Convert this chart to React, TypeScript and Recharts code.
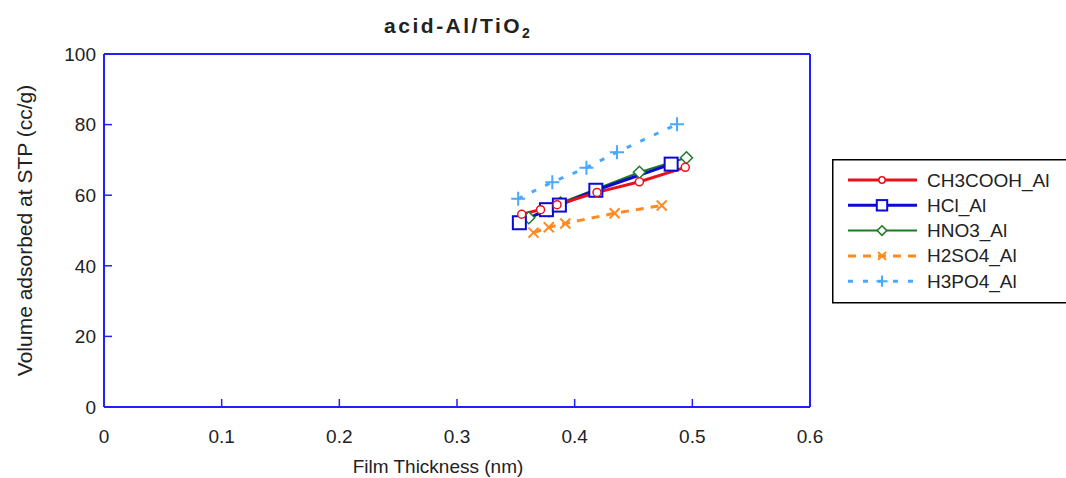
import React from 'react';
import { LineChart, Line, XAxis, YAxis, Legend } from 'recharts';

const xTicks = [0, 0.1, 0.2, 0.3, 0.4, 0.5, 0.6];
const yTicks = [0, 20, 40, 60, 80, 100];

// film thickness (nm) / volume adsorbed (cc/g)
const ch3coohX = [0.355, 0.371, 0.385, 0.419, 0.455, 0.494];
const ch3coohY = [54.6, 55.9, 57.3, 60.8, 63.8, 67.9];
const hclX = [0.353, 0.376, 0.387, 0.418, 0.482];
const hclY = [52.2, 55.9, 57.2, 61.4, 68.8];
const hno3X = [0.361, 0.378, 0.388, 0.455, 0.495];
const hno3Y = [53.6, 55.6, 57.8, 66.5, 70.6];
const h2so4X = [0.365, 0.378, 0.392, 0.434, 0.474];
const h2so4Y = [49.4, 50.9, 52.0, 54.9, 57.1];
const h3po4X = [0.352, 0.381, 0.41, 0.436, 0.487];
const h3po4Y = [59.0, 63.7, 67.8, 72.2, 80.1];

const toPoints = (xs: number[], ys: number[]) => xs.map((x, i) => ({ x, y: ys[i] }));

type Shape = 'circle' | 'square' | 'diamond' | 'cross' | 'plus';

const SERIES = [
  { name: 'CH3COOH_Al', data: toPoints(ch3coohX, ch3coohY), color: '#e8121b', width: 3, dash: undefined, shape: 'circle' as Shape },
  { name: 'HCl_Al', data: toPoints(hclX, hclY), color: '#0a0ad2', width: 3, dash: undefined, shape: 'square' as Shape },
  { name: 'HNO3_Al', data: toPoints(hno3X, hno3Y), color: '#1f7a24', width: 2, dash: undefined, shape: 'diamond' as Shape },
  { name: 'H2SO4_Al', data: toPoints(h2so4X, h2so4Y), color: '#ff8a1f', width: 3, dash: '8 7', shape: 'cross' as Shape },
  { name: 'H3PO4_Al', data: toPoints(h3po4X, h3po4Y), color: '#4aa8ff', width: 3, dash: '5 10', shape: 'plus' as Shape },
];

const drawOrder = ['HNO3_Al', 'HCl_Al', 'CH3COOH_Al', 'H2SO4_Al', 'H3PO4_Al'];

const FONT = '"Liberation Sans", Arial, sans-serif';

const Marker = ({ shape, cx, cy, color, s = 1 }: { shape: Shape; cx: number; cy: number; color: string; s?: number }) => {
  if (cx == null || cy == null) return null;
  switch (shape) {
    case 'circle':
      return <circle cx={cx} cy={cy} r={4 * s} fill="#fff" stroke={color} strokeWidth={1.5} />;
    case 'square':
      return <rect x={cx - 6.5 * s} y={cy - 6.5 * s} width={13 * s} height={13 * s} fill="#fff" stroke={color} strokeWidth={2} />;
    case 'diamond':
      return (
        <path
          d={`M${cx},${cy - 6 * s} L${cx + 6 * s},${cy} L${cx},${cy + 6 * s} L${cx - 6 * s},${cy} Z`}
          fill="#fff"
          stroke={color}
          strokeWidth={1.5}
        />
      );
    case 'cross':
      return (
        <path
          d={`M${cx - 5 * s},${cy - 5 * s} L${cx + 5 * s},${cy + 5 * s} M${cx - 5 * s},${cy + 5 * s} L${cx + 5 * s},${cy - 5 * s}`}
          stroke={color}
          strokeWidth={2}
        />
      );
    default:
      return <path d={`M${cx - 7 * s},${cy} L${cx + 7 * s},${cy} M${cx},${cy - 7 * s} L${cx},${cy + 7 * s}`} stroke={color} strokeWidth={2} />;
  }
};

const YTitle = (props: any) => {
  const vb = props.viewBox || {};
  const x = vb.x + 24;
  const y = vb.y + vb.height / 2;
  return (
    <text x={x} y={y} transform={`rotate(-90 ${x} ${y})`} textAnchor="middle" dominantBaseline="central" fill="#222" fontSize={21} fontFamily={FONT}>
      Volume adsorbed at STP (cc/g)
    </text>
  );
};

const XTitle = (props: any) => {
  const vb = props.viewBox || {};
  const x = vb.x + vb.width / 2 - 19;
  const y = vb.y + 59;
  return (
    <text x={x} y={y} textAnchor="middle" dominantBaseline="central" fill="#222" fontSize={19} fontFamily={FONT}>
      Film Thickness (nm)
    </text>
  );
};

const LegendBox = () => (
  <svg width={240} height={145} style={{ display: 'block' }}>
    <rect x={0.75} y={0.75} width={250} height={143} fill="#fff" stroke="#000" strokeWidth={1.5} />
    {SERIES.map((s, i) => {
      const cy = 21 + i * 25.3;
      return (
        <g key={s.name}>
          <line x1={16} x2={85} y1={cy} y2={cy} stroke={s.color} strokeWidth={s.width} strokeDasharray={s.dash} />
          <Marker shape={s.shape} cx={50} cy={cy} color={s.color} s={0.8} />
          <text x={95} y={cy} dominantBaseline="central" fontSize={19} fontFamily={FONT} fill="#222">
            {s.name}
          </text>
        </g>
      );
    })}
  </svg>
);

const axisColor = '#1f1fff';

export default function App() {
  return (
    <div style={{ position: 'absolute', left: 0, top: 0, width: 1066, height: 478, background: '#fff', fontFamily: FONT }}>
      <div
        style={{
          position: 'absolute',
          left: 0,
          top: 14,
          width: 914,
          textAlign: 'center',
          fontSize: 21,
          fontWeight: 'bold',
          letterSpacing: 2.5,
          color: '#222',
          lineHeight: '24px',
        }}
      >
        acid-Al/TiO<sub style={{ fontSize: 14, letterSpacing: 0 }}>2</sub>
      </div>
      <LineChart width={1066} height={478} margin={{ top: 53, right: 255, bottom: 0, left: 0 }}>
        <XAxis
          xAxisId="bottom"
          dataKey="x"
          type="number"
          domain={[0, 0.6]}
          ticks={xTicks}
          interval={0}
          height={71}
          stroke={axisColor}
          axisLine={{ stroke: axisColor, strokeWidth: 2 }}
          tickLine={{ stroke: axisColor, strokeWidth: 1.5 }}
          tickSize={-8}
          tickMargin={31}
          tick={{ fill: '#222', fontSize: 19, fontFamily: FONT }}
          label={<XTitle />}
        />
        <XAxis
          xAxisId="top"
          orientation="top"
          dataKey="x"
          type="number"
          domain={[0, 0.6]}
          ticks={xTicks}
          interval={0}
          height={1}
          stroke={axisColor}
          axisLine={{ stroke: axisColor, strokeWidth: 2 }}
          tickLine={{ stroke: axisColor, strokeWidth: 1.5 }}
          tickSize={-8}
          tickFormatter={() => ''}
        />
        <YAxis
          yAxisId="left"
          type="number"
          domain={[0, 100]}
          ticks={yTicks}
          interval={0}
          width={104}
          stroke={axisColor}
          axisLine={{ stroke: axisColor, strokeWidth: 2 }}
          tickLine={{ stroke: axisColor, strokeWidth: 1.5 }}
          tickSize={-8}
          tickMargin={16}
          tick={{ fill: '#222', fontSize: 19, fontFamily: FONT }}
          label={<YTitle />}
        />
        <YAxis
          yAxisId="right"
          orientation="right"
          type="number"
          domain={[0, 100]}
          ticks={yTicks}
          interval={0}
          width={1}
          stroke={axisColor}
          axisLine={{ stroke: axisColor, strokeWidth: 2 }}
          tickLine={{ stroke: axisColor, strokeWidth: 1.5 }}
          tickSize={-8}
          tickFormatter={() => ''}
        />
        <Legend
          layout="vertical"
          align="center"
          verticalAlign="middle"
          content={() => <LegendBox />}
          wrapperStyle={{ left: 832, top: 159, width: 240, height: 145 }}
        />
        {drawOrder.map((n) => {
          const s = SERIES.find((d) => d.name === n)!;
          return (
            <Line
              key={s.name}
              name={s.name}
              xAxisId="bottom"
              yAxisId="left"
              data={s.data}
              dataKey="y"
              type="linear"
              stroke={s.color}
              strokeWidth={s.width}
              strokeDasharray={s.dash}
              dot={(p: any) => <Marker key={`${s.name}-${p.index}`} shape={s.shape} cx={p.cx} cy={p.cy} color={s.color} />}
              activeDot={false}
              isAnimationActive={false}
            />
          );
        })}
      </LineChart>
    </div>
  );
}
